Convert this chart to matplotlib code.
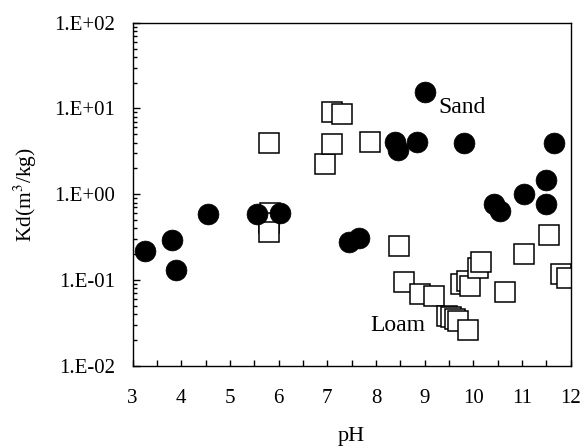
import matplotlib
matplotlib.use("Agg")
import matplotlib.pyplot as plt
import matplotlib.ticker as mticker
import numpy as np

plt.rcParams['font.family'] = ['Liberation Serif', 'DejaVu Serif']
plt.rcParams['mathtext.fontset'] = 'stix'

# Sand (filled circles)
sand_ph = [3.25, 3.8, 3.88, 4.55, 5.55, 6.02, 7.45, 7.65, 8.4, 8.45, 8.85,
           9.0, 9.8, 10.42, 10.55, 11.05, 11.5, 11.5, 11.65]
sand_kd = [0.22, 0.29, 0.13, 0.58, 0.58, 0.6, 0.28, 0.31, 4.1, 3.3, 4.1,
           15.4, 4.0, 0.77, 0.63, 1.0, 1.47, 0.77, 4.0]

# Loam (open squares)
loam_ph = [5.8, 5.82, 5.8, 5.8, 6.95, 7.1, 7.1, 7.3, 7.88,
           8.47, 8.58, 8.9, 9.2, 9.45, 9.55, 9.62, 9.68, 9.9,
           9.75, 9.86, 9.93, 10.1, 10.15, 10.65, 11.05, 11.55, 11.8, 11.93]
loam_kd = [4.0, 0.6, 0.46, 0.36, 2.25, 9.0, 3.85, 8.6, 4.1,
           0.25, 0.094, 0.069, 0.065, 0.038, 0.037, 0.035, 0.033, 0.026,
           0.089, 0.098, 0.085, 0.137, 0.163, 0.072, 0.2, 0.33, 0.116, 0.104]

fig = plt.figure(figsize=(5.84, 4.48), dpi=100)
ax = fig.add_axes([0.2272, 0.1837, 0.75, 0.7656])

ax.plot(loam_ph, loam_kd, ls='none', marker='s', ms=14.5, mfc='white',
        mec='black', mew=1.1)
ax.plot(sand_ph, sand_kd, ls='none', marker='o', ms=15, mfc='black',
        mec='black', mew=0.5)

ax.set_yscale('log')
ax.set_xlim(3, 12)
ax.set_ylim(1e-2, 1e2)

ax.xaxis.set_major_locator(mticker.MultipleLocator(1))
ax.xaxis.set_minor_locator(mticker.MultipleLocator(0.5))
ax.yaxis.set_major_locator(mticker.LogLocator(base=10))
ax.yaxis.set_minor_locator(mticker.LogLocator(base=10, subs=np.arange(2, 10)))
ax.yaxis.set_minor_formatter(mticker.NullFormatter())
ax.yaxis.set_major_formatter(mticker.FuncFormatter(
    lambda v, p: "1.E{:+03d}".format(int(round(np.log10(v))))))

ax.tick_params(which='both', direction='in', top=False, right=False,
               labelsize=15, width=1.0)
ax.tick_params(axis='x', which='both', length=4, pad=16.5)
ax.tick_params(axis='y', which='major', length=5, pad=12.5)
ax.tick_params(axis='y', which='minor', length=3)

for s in ax.spines.values():
    s.set_linewidth(1.0)

ax.text(9.28, 8.77, "Sand", fontsize=17, va='baseline', ha='left')
ax.text(7.875, 0.0256, "Loam", fontsize=17, va='baseline', ha='left')

ax.set_xlabel("pH", fontsize=16)
ax.xaxis.set_label_coords(0.5, -0.2195)
ax.xaxis.label.set_va('baseline')
ax.set_ylabel("Kd(m$^3$/kg)", fontsize=15.5)
ax.yaxis.set_label_coords(-0.246, 0.5)
ax.yaxis.label.set_va('center')

fig.savefig("out.png", dpi=100)
